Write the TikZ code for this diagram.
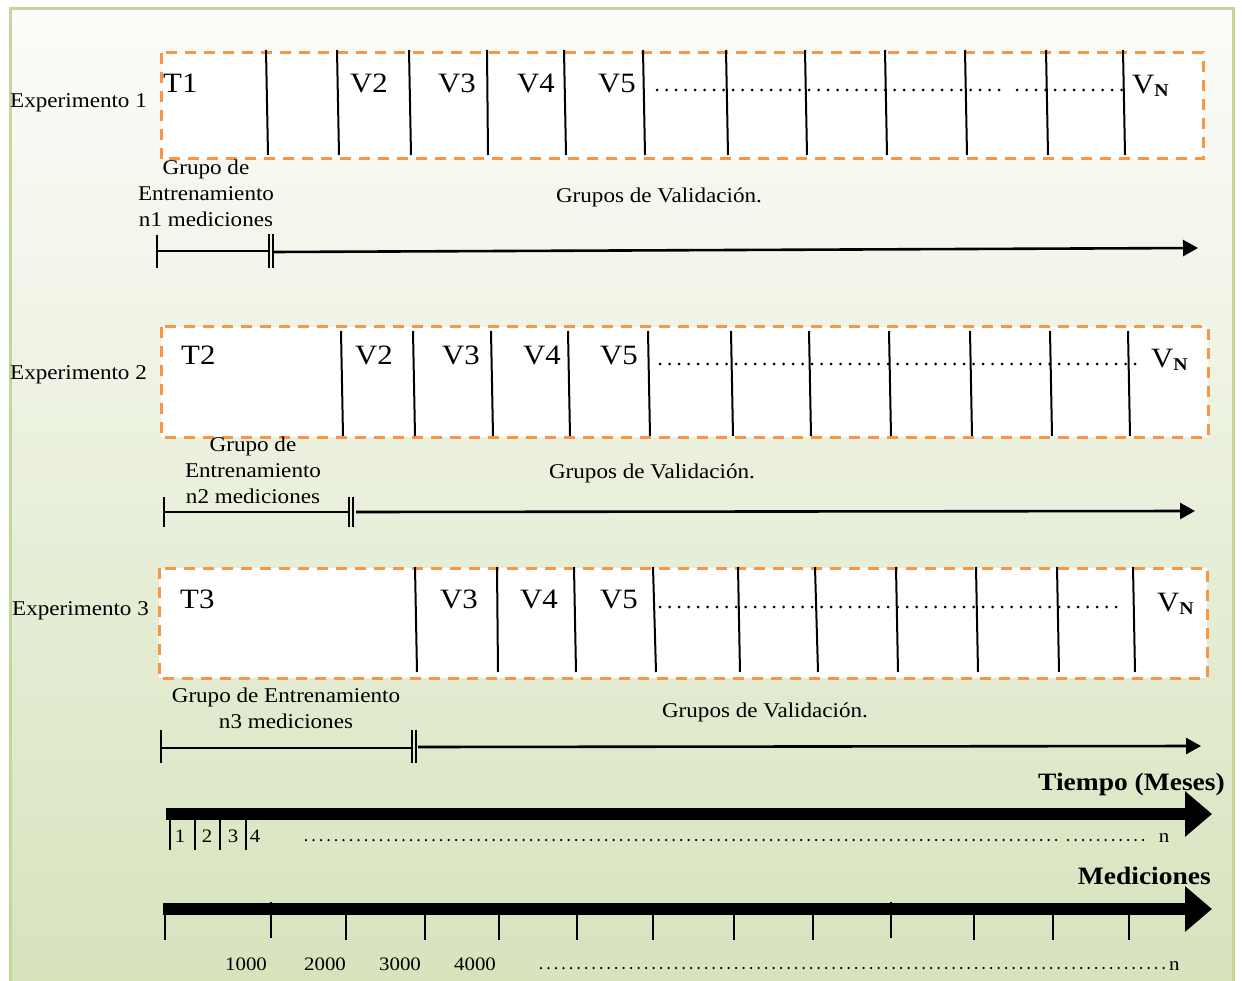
\documentclass[tikz,border=0pt]{standalone}
\usepackage{fontspec}
\setmainfont{Liberation Serif}[FakeStretch=1.1]
\usetikzlibrary{arrows.meta}
\definecolor{boxorange}{RGB}{247,150,70}
\definecolor{framegreen}{RGB}{195,214,155}
\definecolor{bgtop}{RGB}{252,252,250}
\definecolor{bgbottom}{RGB}{214,227,188}

\begin{document}
\begin{tikzpicture}[
    x=1pt, y=1pt,
    expbox/.style={
        draw=boxorange, line width=3pt, dash pattern=on 11pt off 8pt, fill=white
    },
    divider/.style={line width=2pt},
    dotsline/.style={line width=3pt, line cap=round, dash pattern=on 0pt off 9.5pt},
    smalldots/.style={line width=2.5pt, line cap=round, dash pattern=on 0pt off 7.5pt},
    lbl/.style={font=\fontsize{21}{26}\selectfont, inner sep=0pt, anchor=base},
    grp/.style={lbl, align=center},
    bigl/.style={font=\fontsize{28}{30}\selectfont, inner sep=0pt, anchor=base west},
    numl/.style={font=\fontsize{19}{22}\selectfont, inner sep=0pt, anchor=base},
    gbar/.style={line width=1.6pt},
    flow/.style={line width=2.6pt, -{Triangle[length=15pt,width=16pt]}},
    axis/.style={line width=12pt, -{Triangle[length=27pt,width=44pt]}},
    tickmark/.style={line width=1.6pt},
]

\def\VN{V\raisebox{-3pt}{\fontsize{18}{18}\selectfont\bfseries N}}

%% ===================== BACKGROUND =====================
\useasboundingbox (0,0) rectangle (1242,-981);
\fill[top color=bgtop, bottom color=bgbottom] (10,-9) rectangle (1233,-990);
\draw[framegreen, line width=3pt] (10,-9) rectangle (1233,-990);

%% ===================== EXPERIMENTO 1 =====================
\draw[expbox] (161,-53) rectangle (1203,-159);
\foreach \xa/\xb in {266/268, 337/339, 409/411, 487/488, 564/566, 643/645,
                     726/728, 805/807, 885/887, 965/967, 1046/1048, 1123/1125} {
  \draw[divider] (\xa,-50) -- (\xb,-155);
}
\draw[dotsline] (657,-90) -- (1003,-90);
\draw[dotsline] (1017,-90) -- (1122,-90);

\node[bigl] (t1) at (163,-93) {T1};
\node[bigl] (e1v2) at (350,-93) {V2};
\node[bigl] (e1v3) at (438,-93) {V3};
\node[bigl] (e1v4) at (517,-93) {V4};
\node[bigl] (e1v5) at (598,-93) {V5};
\node[bigl] (e1vn) at (1132,-94) {\VN};

\node[lbl, anchor=base west] (exp1) at (10,-108) {Experimento 1};
% base = last line of the text
\node[grp] (g1) at (206,-227) {Grupo de\\Entrenamiento\\n1 mediciones};
\node[lbl] (val1) at (659,-203) {Grupos de Validación.};

% bracket + arrow
\coordinate (b1a) at (157,-235);  \coordinate (b1b) at (157,-268);
\coordinate (b1l) at (157,-251);  \coordinate (b1r) at (269,-251);
\coordinate (f1s) at (274,-252);  \coordinate (f1e) at (1198,-248);
\draw[gbar] (b1a) -- (b1b);
\draw[gbar] (b1l) -- (b1r);
\draw[gbar] (269,-234) -- (269,-268);
\draw[gbar] (273,-234) -- (273,-268);
\draw[flow] (f1s) -- (f1e);

%% ===================== EXPERIMENTO 2 =====================
\draw[expbox] (161,-327) rectangle (1208,-437);
\foreach \xa/\xb in {341/343, 413/415, 491/493, 568/570, 648/650, 731/733,
                     809/811, 889/891, 970/972, 1050/1052, 1128/1130} {
  \draw[divider] (\xa,-331) -- (\xb,-436);
}
\draw[dotsline] (660,-364) -- (1140,-364);

\node[bigl] (t2) at (181,-365) {T2};
\node[bigl] (e2v2) at (355,-365) {V2};
\node[bigl] (e2v3) at (442,-365) {V3};
\node[bigl] (e2v4) at (523,-365) {V4};
\node[bigl] (e2v5) at (600,-365) {V5};
\node[bigl] (e2vn) at (1151,-367) {\VN};

\node[lbl, anchor=base west] (exp2) at (10,-380) {Experimento 2};
\node[grp] (g2) at (253,-503) {Grupo de\\Entrenamiento\\n2 mediciones};
\node[lbl] (val2) at (652,-478) {Grupos de Validación.};

% bracket + arrow
\coordinate (b2a) at (164,-497);  \coordinate (b2b) at (164,-527);
\coordinate (b2l) at (164,-512);  \coordinate (b2r) at (349,-512);
\coordinate (f2s) at (356,-512);  \coordinate (f2e) at (1195,-511);
\draw[gbar] (b2a) -- (b2b);
\draw[gbar] (b2l) -- (b2r);
\draw[gbar] (349,-497) -- (349,-527);
\draw[gbar] (353,-497) -- (353,-527);
\draw[flow] (f2s) -- (f2e);

%% ===================== EXPERIMENTO 3 =====================
\draw[expbox] (159,-568) rectangle (1207,-678);
\foreach \xa/\xb in {415/417, 497/498, 574/576, 653/656, 738/740,
                     815/818, 896/898, 976/978, 1057/1059, 1133/1135} {
  \draw[divider] (\xa,-567) -- (\xb,-672);
}
\draw[dotsline] (660,-607) -- (1125,-607);

\node[bigl] (t3) at (180,-608) {T3};
\node[bigl] (e3v3) at (440,-608) {V3};
\node[bigl] (e3v4) at (520,-608) {V4};
\node[bigl] (e3v5) at (600,-608) {V5};
\node[bigl] (e3vn) at (1157,-611) {\VN};

\node[lbl, anchor=base west] (exp3) at (12,-615) {Experimento 3};
\node[grp] (g3) at (286,-728) {Grupo de Entrenamiento\\n3 mediciones};
\node[lbl] (val3) at (765,-717) {Grupos de Validación.};

% bracket + arrow
\coordinate (b3a) at (161,-730);  \coordinate (b3b) at (161,-763);
\coordinate (b3l) at (161,-748);  \coordinate (b3r) at (412,-748);
\coordinate (f3s) at (418,-747);  \coordinate (f3e) at (1201,-746);
\draw[gbar] (b3a) -- (b3b);
\draw[gbar] (b3l) -- (b3r);
\draw[gbar] (412,-730) -- (412,-763);
\draw[gbar] (416,-730) -- (416,-763);
\draw[flow] (f3s) -- (f3e);

%% ===================== TIEMPO AXIS =====================
\coordinate (ts) at (166,-814);  \coordinate (te) at (1212,-814);
\draw[axis] (ts) -- (te);
\node[lbl, font=\fontsize{25}{28}\selectfont\bfseries, anchor=base east]
  (tiempo) at (1225,-790) {Tiempo (Meses)};
\foreach \x in {170,195,220,246} {
  \draw[tickmark] (\x,-820) -- (\x,-850);
}
\foreach \x/\n in {180/1, 207/2, 233/3, 255/4} {
  \node[numl] (m\n) at (\x,-842) {\n};
}
\draw[smalldots] (306,-840) -- (1058,-840);
\draw[smalldots] (1068,-840) -- (1150,-840);
\node[numl] (mn) at (1164,-842) {n};

%% ===================== MEDICIONES AXIS =====================
\coordinate (ms) at (163,-909);  \coordinate (me) at (1212,-909);
\draw[axis] (ms) -- (me);
\node[lbl, font=\fontsize{25}{28}\selectfont\bfseries, anchor=base east]
  (medic) at (1211,-884) {Mediciones};
\foreach \x in {165,346,425,499,577,653,734,813,974,1053,1129} {
  \draw[tickmark] (\x,-915) -- (\x,-940);
}
\foreach \x in {271,891} {
  \draw[tickmark] (\x,-902) -- (\x,-938);
}
\foreach \x/\n in {246/1000, 325/2000, 400/3000, 475/4000} {
  \node[numl] (k\n) at (\x,-970) {\n};
}
\draw[smalldots] (541,-968) -- (1168,-968);
\node[numl, anchor=base west] (kn) at (1169,-970) {n};

\end{tikzpicture}
\end{document}
